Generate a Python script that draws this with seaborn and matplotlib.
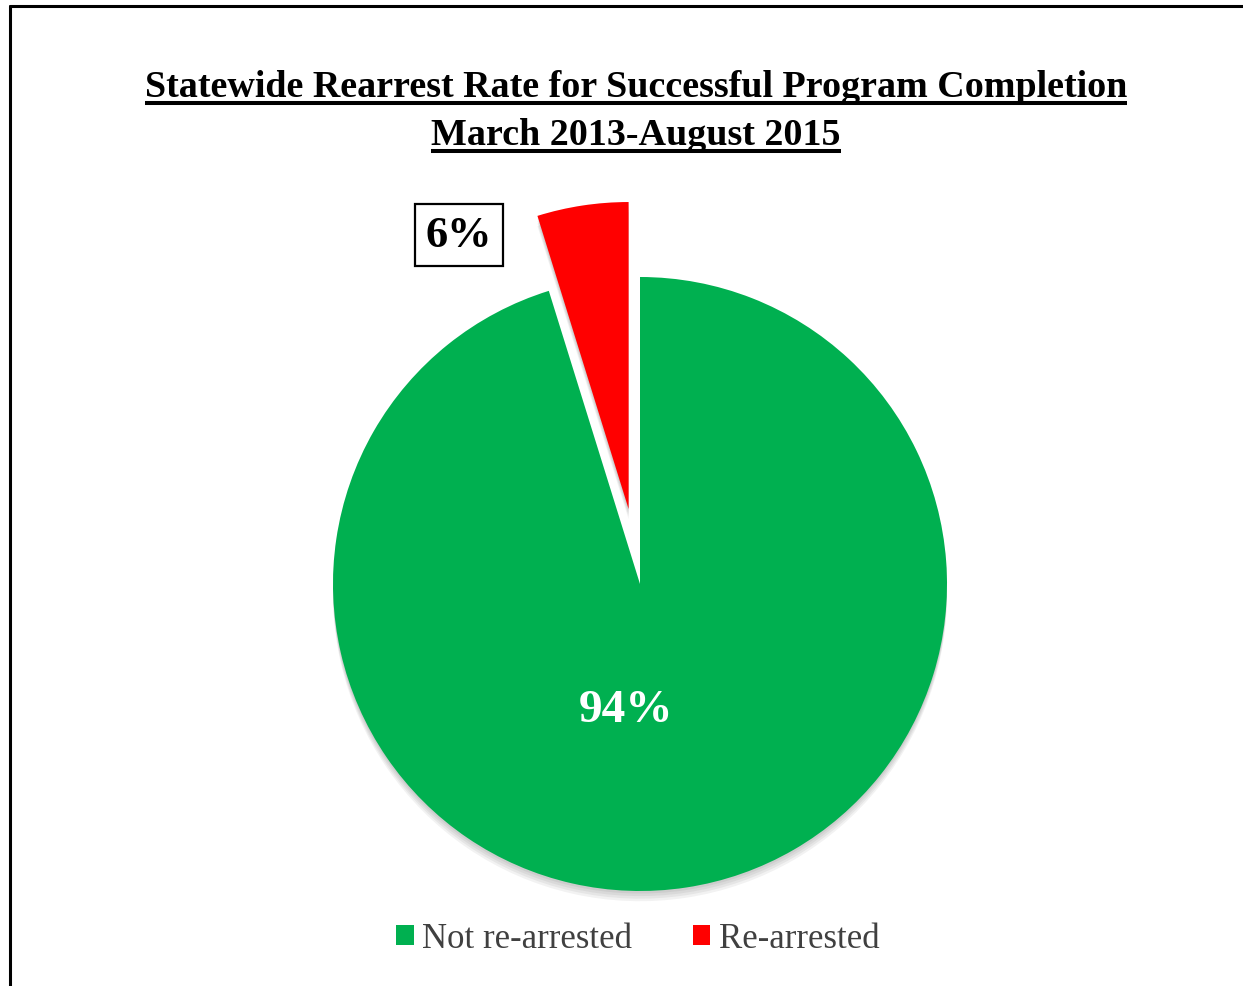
import matplotlib
matplotlib.use("Agg")
import matplotlib.pyplot as plt
from matplotlib.lines import Line2D
from matplotlib.patches import Patch, Shadow
import seaborn as sns

# ---- data ----
categories = ["Not re-arrested", "Re-arrested"]
shares = [95.2, 4.8]            # slice sizes as drawn
pct_labels = ["94%", "6%"]     # labels printed on the chart
colors = ["#00B050", "#FF0000"]
title_lines = ["Statewide Rearrest Rate for Successful Program Completion",
               "March 2013-August 2015"]

sns.set_theme(style="white")
plt.rcParams["font.family"] = ["Liberation Serif", "DejaVu Serif"]

W, H = 1243, 987
fig = plt.figure(figsize=(W / 100, H / 100), dpi=100)
fig.patch.set_facecolor("white")

# pie axes: centre (640,585) px, radius 307 px
cx, cy, r = 640, 585, 307
ax = fig.add_axes([(cx - r) / W, (H - cy - r) / H, 2 * r / W, 2 * r / H])
ax.set_axis_off()

wedges, _ = ax.pie(shares, colors=colors, startangle=90, counterclock=False,
                   explode=[0, 0.247], radius=1,
                   wedgeprops=dict(linewidth=0))
# soft grey shadow
for w in wedges:
    w.set_clip_on(False)
    for k, off in enumerate([0.006, 0.012, 0.018, 0.024]):
        s = Shadow(w, 0.0, -off)
        s.set_facecolor("#000000")
        s.set_edgecolor("none")
        s.set_alpha(0.05)
        s.set_zorder(w.get_zorder() - 0.5)
        s.set_clip_on(False)
        ax.add_patch(s)
ax.set_xlim(-1, 1)
ax.set_ylim(-1, 1)
ax.set_aspect("equal")

# data labels
ax.text((626 - cx) / r, -(722 - cy) / r, pct_labels[0], color="white",
        fontsize=34, fontweight="bold", ha="center", va="baseline")
ax.text((459 - cx) / r, (cy - 247) / r, pct_labels[1], color="black",
        fontsize=32, fontweight="bold", ha="center", va="baseline",
        bbox=dict(boxstyle="square,pad=0.24", fc="white", ec="black", lw=1.6),
        clip_on=False)

# title with underlines
baselines = [97, 145]
unders = [103.5, 151.5]
tts = []
for line, yb in zip(title_lines, baselines):
    t = fig.text(636 / W, 1 - yb / H, line, ha="center", va="baseline",
                 fontsize=27.4, fontweight="bold", color="black")
    tts.append(t)
fig.canvas.draw()
rend = fig.canvas.get_renderer()
for t, yu in zip(tts, unders):
    bb = t.get_window_extent(rend)
    fig.add_artist(Line2D([bb.x0 / W, bb.x1 / W], [1 - yu / H, 1 - yu / H],
                          transform=fig.transFigure, color="black", lw=2.9,
                          solid_capstyle="butt"))

# legend
handles = [Patch(facecolor=c, edgecolor="none") for c in colors]
leg = fig.legend(handles, categories, loc="center",
                 bbox_to_anchor=(638 / W, 1 - 940 / H), ncol=2, frameon=False,
                 handlelength=0.5, handleheight=0.5, handletextpad=0.25,
                 columnspacing=1.75, prop={"family": "Liberation Serif", "size": 25})
for txt in leg.get_texts():
    txt.set_color("#404040")

# outer border (left and top visible)
fig.add_artist(Line2D([10.5 / W, 10.5 / W], [0, 1 - 6.5 / H],
                      transform=fig.transFigure, color="black", lw=2.2))
fig.add_artist(Line2D([10.5 / W, 1.0], [1 - 6.5 / H, 1 - 6.5 / H],
                      transform=fig.transFigure, color="black", lw=2.2))

fig.savefig("out.png", dpi=100, facecolor="white")
